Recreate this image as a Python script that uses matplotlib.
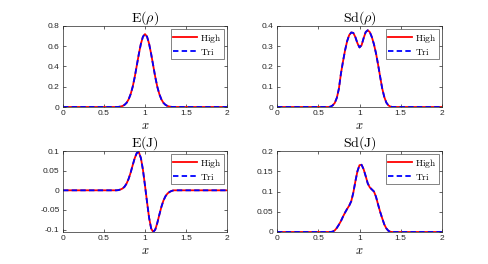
import matplotlib
matplotlib.use("Agg")
import matplotlib.pyplot as plt
import numpy as np

plt.rcParams['mathtext.fontset'] = 'cm'
plt.rcParams['font.family'] = ['Liberation Sans', 'DejaVu Sans']

# sampled x positions (read values)
x_pts = [0.0, 0.5, 0.6, 0.625, 0.65, 0.675, 0.7, 0.725, 0.75, 0.775, 0.8, 0.825, 0.85,
         0.875, 0.9, 0.925, 0.95, 0.975, 1.0, 1.025, 1.05, 1.075, 1.1, 1.125,
         1.15, 1.175, 1.2, 1.225, 1.25, 1.275, 1.3, 1.325, 1.35, 1.375, 1.4, 1.5, 2.0]

E_rho_high = [0, 0, 0, 0, 0, 0.001, 0.004, 0.010, 0.021, 0.041, 0.075, 0.127, 0.20,
              0.297, 0.41, 0.524, 0.625, 0.695, 0.72, 0.695, 0.625, 0.524, 0.41, 0.297,
              0.20, 0.127, 0.075, 0.041, 0.021, 0.010, 0.004, 0.001, 0, 0, 0, 0, 0]
E_rho_tri = list(E_rho_high)

Sd_rho_high = [0, 0, 0, 0, 0.002, 0.008, 0.02, 0.045, 0.09, 0.165, 0.225, 0.28, 0.325,
               0.355, 0.368, 0.366, 0.345, 0.315, 0.294, 0.305, 0.34, 0.37, 0.379, 0.37,
               0.345, 0.31, 0.265, 0.21, 0.15, 0.092, 0.05, 0.022, 0.008, 0.002, 0, 0, 0]
Sd_rho_tri = list(Sd_rho_high)

E_J_high = [0, 0, 0, 0, 0, 0.0005, 0.002, 0.0045, 0.009, 0.017, 0.029, 0.045, 0.064,
            0.082, 0.095, 0.097, 0.082, 0.052, 0.012, -0.03, -0.07, -0.097, -0.106, -0.1,
            -0.083, -0.062, -0.042, -0.026, -0.015, -0.008, -0.004, -0.0015, 0, 0, 0, 0, 0]
E_J_tri = list(E_J_high)

Sd_J_high = [0, 0, 0, 0, 0, 0.001, 0.004, 0.01, 0.018, 0.027, 0.038, 0.048, 0.057,
             0.065, 0.076, 0.097, 0.125, 0.15, 0.165, 0.166, 0.155, 0.138, 0.12, 0.11,
             0.105, 0.1, 0.087, 0.068, 0.05, 0.034, 0.019, 0.009, 0.003, 0.0005, 0, 0, 0]
Sd_J_tri = list(Sd_J_high)

titles = [r'$\mathrm{E}(\rho)$', r'$\mathrm{Sd}(\rho)$', r'$\mathrm{E(J)}$', r'$\mathrm{Sd(J)}$']
highs = [E_rho_high, Sd_rho_high, E_J_high, Sd_J_high]
tris = [E_rho_tri, Sd_rho_tri, E_J_tri, Sd_J_tri]
yticks = [[0, 0.2, 0.4, 0.6, 0.8], [0, 0.1, 0.2, 0.3, 0.4],
          [-0.1, -0.05, 0, 0.05, 0.1], [0, 0.05, 0.1, 0.15, 0.2]]
yticklabels = [['0', '0.2', '0.4', '0.6', '0.8'], ['0', '0.1', '0.2', '0.3', '0.4'],
               ['-0.1', '-0.05', '0', '0.05', '0.1'], ['0', '0.05', '0.1', '0.15', '0.2']]
ylims = [(0, 0.8), (0, 0.4), (-0.106, 0.1), (0, 0.2)]
xticks = [0, 0.5, 1, 1.5, 2]
xticklabels = ['0', '0.5', '1', '1.5', '2']

W, H = 488, 264
fig = plt.figure(figsize=(W / 100, H / 100), dpi=100)
boxes = [(63, 26, 227, 107), (277, 26, 442, 107), (63, 151, 227, 232), (277, 151, 442, 232)]
ac = '#262626'
for i, (l, t, r, b) in enumerate(boxes):
    ax = fig.add_axes([l / W, 1 - b / H, (r - l) / W, (b - t) / H])
    ax.plot(x_pts, highs[i], color='red', lw=1.3, label=r'$\mathrm{High}$')
    ax.plot(x_pts, tris[i], color='blue', lw=1.3, ls=(0, (3.0, 1.8)), label=r'$\mathrm{Tri}$')
    ax.set_xlim(0, 2)
    ax.set_ylim(*ylims[i])
    ax.set_xticks(xticks)
    ax.set_xticklabels(xticklabels)
    ax.set_yticks(yticks[i])
    ax.set_yticklabels(yticklabels[i])
    ax.tick_params(direction='in', top=True, right=True, length=2, width=0.5,
                   labelsize=6, colors=ac, pad=2.5)
    for s in ax.spines.values():
        s.set_linewidth(0.5)
        s.set_color(ac)
    ax.set_title(titles[i], fontsize=10, pad=3)
    ax.set_xlabel(r'$x$', fontsize=9, labelpad=2)
    leg = ax.legend(loc='upper right', fontsize=6.8, frameon=True, fancybox=False,
                    handlelength=2.5, handletextpad=0.3, borderpad=0.3,
                    labelspacing=0.2, borderaxespad=0.3)
    leg.get_frame().set_edgecolor('#262626')
    leg.get_frame().set_linewidth(0.5)

fig.savefig('out.png', dpi=100)
